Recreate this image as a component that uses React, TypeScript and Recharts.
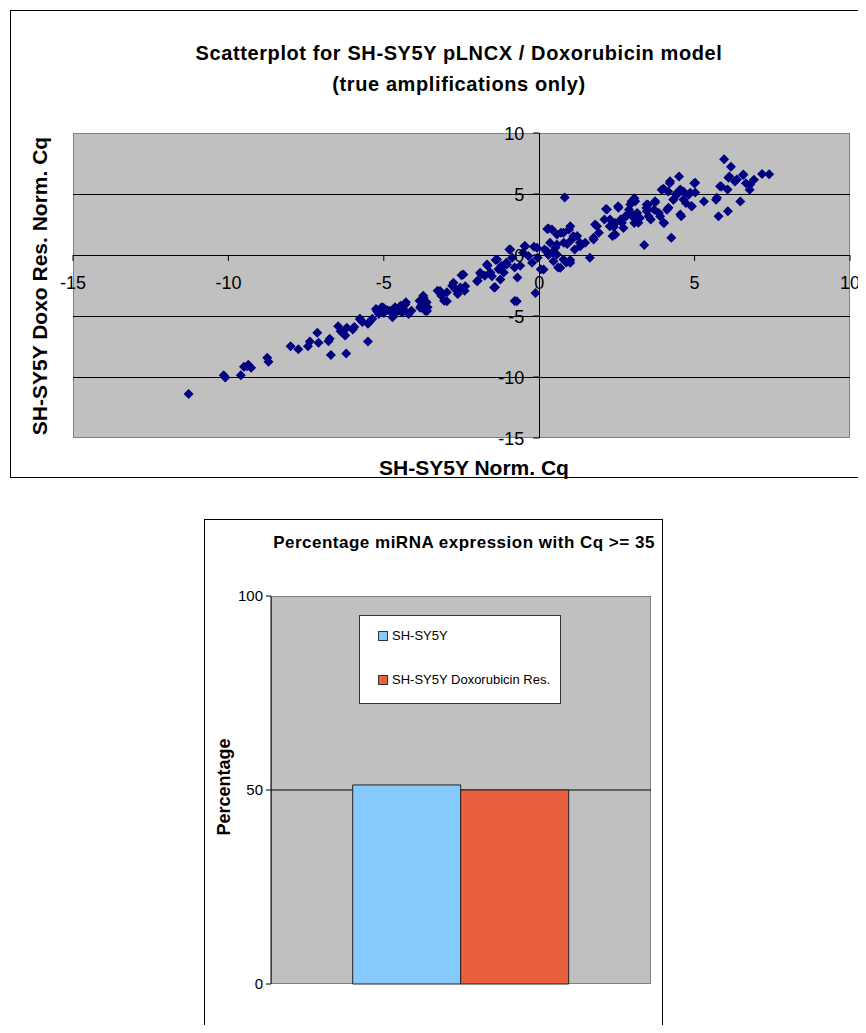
import React from "react";
import {
    ScatterChart,
    Scatter,
    XAxis,
    YAxis,
    CartesianGrid,
    BarChart,
    Bar,
    Legend,
} from "recharts";

// SH-SY5Y normalised Cq (x) vs SH-SY5Y Doxo Res. normalised Cq (y)
const parentalCq = [
    -11.28, -10.15, -10.1, -9.6, -9.5, -9.36, -9.27, -9.4, -8.75, -8.71,
    -8.0, -7.75, -7.44, -7.38, -7.14, -7.1, -6.78, -6.74, -6.7, -6.47,
    -6.39, -6.3, -6.24, -6.21, -6.19, -6.0, -5.95, -5.77, -5.76, -5.69,
    -5.51, -5.51, -5.44, -5.37, -5.25, -5.22, -5.16, -5.07, -5.01, -5.0,
    -4.81, -4.72, -4.69, -4.64, -4.55, -4.47, -4.46, -4.37, -4.31, -4.29,
    -4.2, -4.11, -3.85, -3.83, -3.8, -3.73, -3.72, -3.67, -3.62, -3.61,
    -3.59, -3.27, -3.19, -3.15, -3.06, -2.97, -2.97, -2.8, -2.76, -2.71,
    -2.62, -2.54, -2.5, -2.44, -2.4, -2.38, -2.0, -1.98, -1.9, -1.87,
    -1.75, -1.68, -1.66, -1.57, -1.52, -1.45, -1.42, -1.4, -1.36, -1.31,
    -1.25, -1.22, -1.14, -1.05, -1.04, -0.96, -0.93, -0.87, -0.79, -0.79,
    -0.72, -0.7, -0.61, -0.52, -0.47, -0.45, -0.35, -0.23, -0.17, -0.12,
    -0.07, -0.05, 0.05, 0.14, 0.17, 0.25, 0.26, 0.3, 0.35, 0.41,
    0.44, 0.46, 0.46, 0.52, 0.57, 0.57, 0.57, 0.61, 0.68, 0.7,
    0.78, 0.78, 0.79, 0.82, 0.87, 0.96, 1.0, 1.0, 1.0, 1.05,
    1.1, 1.14, 1.22, 1.31, 1.32, 1.48, 1.63, 1.75, 1.75, 1.8,
    1.86, 1.92, 2.1, 2.15, 2.18, 2.27, 2.28, 2.36, 2.45, 2.45,
    2.54, 2.55, 2.62, 2.66, 2.71, 2.77, 2.8, 2.89, 2.93, 2.97,
    3.04, 3.06, 3.06, 3.09, 3.15, 3.19, 3.24, 3.38, 3.45, 3.46,
    3.46, 3.5, 3.52, 3.59, 3.73, 3.73, 3.85, 3.89, 3.94, 4.0,
    4.0, 4.02, 4.11, 4.15, 4.16, 4.2, 4.21, 4.25, 4.32, 4.32,
    4.43, 4.5, 4.54, 4.54, 4.57, 4.64, 4.64, 4.72, 4.81, 4.86,
    4.9, 4.91, 4.99, 5.02, 5.02, 5.3, 5.69, 5.72, 5.77, 5.82,
    5.86, 5.95, 6.06, 6.07, 6.09, 6.12, 6.17, 6.3, 6.36, 6.47,
    6.56, 6.57, 6.65, 6.77, 6.79, 6.91, 7.17, 7.4,
    -4.9, -4.4, -3.7, -1.2, 0.3, 0.9, 2.4, 3.0, 3.7, 4.4,
];
const doxoCq = [
    -11.4, -9.85, -10.05, -9.85, -9.15, -9.0, -9.25, -9.11, -8.43, -8.76,
    -7.48, -7.73, -7.48, -7.08, -6.37, -7.2, -7.07, -6.86, -8.2, -5.83,
    -6.26, -6.45, -6.6, -8.08, -5.97, -6.1, -5.9, -5.23, -5.29, -5.5,
    -7.08, -5.64, -5.43, -5.23, -4.42, -4.6, -4.83, -4.28, -4.33, -4.75,
    -4.56, -5.1, -4.88, -4.28, -4.56, -4.6, -4.15, -4.42, -4.06, -3.88,
    -4.83, -4.56, -3.74, -4.33, -4.15, -3.34, -3.51, -4.56, -3.88, -4.6,
    -4.28, -2.93, -2.96, -3.34, -3.74, -3.06, -3.79, -2.52, -2.28, -2.79,
    -3.2, -2.66, -1.65, -1.6, -2.93, -2.56, -2.15, -2.11, -1.46, -1.57,
    -1.71, -0.78, -0.89, -1.44, -1.74, -2.66, -2.64, -0.41, -0.37, -1.17,
    -2.01, -0.89, -1.44, -0.62, -0.78, 0.46, 0.45, -0.22, -1.03, -3.77,
    -3.79, -1.84, -0.89, 0.19, 0.73, 0.72, -0.08, -0.64, 0.68, -3.12,
    0.59, -0.22, -1.17, -1.19, 0.46, 0.31, 2.14, 2.17, 1.0, 2.09,
    0.19, 0.31, -0.51, 0.6, 1.68, 0.86, 0.04, -1.03, -1.05, 1.82,
    1.82, -0.37, 1.0, 4.72, -0.62, 2.09, -0.41, 2.36, -0.64, 1.27,
    1.54, 0.46, 1.55, 1.0, 0.72, 1.0, -0.22, 1.27, 1.41, 2.49,
    2.36, 1.82, 2.9, 3.77, 3.73, 2.36, 2.91, 1.55, 2.63, 1.68,
    3.99, 3.87, 2.9, 2.64, 2.22, 3.18, 3.17, 3.71, 4.14, 4.39,
    3.05, 4.66, 2.63, 4.41, 3.44, 2.64, 3.04, 0.81, 3.85, 3.59,
    4.14, 4.12, 3.18, 2.9, 4.31, 4.41, 3.44, 3.18, 5.34, 5.43,
    2.64, 2.63, 3.71, 5.21, 3.87, 5.88, 6.05, 1.41, 4.53, 4.55,
    4.93, 6.43, 5.37, 3.32, 3.17, 5.21, 4.55, 4.26, 4.93, 5.1,
    4.0, 4.0, 5.88, 5.12, 5.92, 4.39, 4.53, 4.69, 3.17, 5.64,
    5.61, 7.84, 5.37, 3.58, 6.33, 6.43, 7.24, 6.02, 6.19, 4.39,
    6.56, 6.6, 5.88, 5.34, 5.78, 6.16, 6.64, 6.62,
    -4.5, -4.7, -4.0, -1.0, 0.0, 0.9, 2.3, 3.3, 3.7, 5.0,
];
const scatterXTicks = [-15, -10, -5, 0, 5, 10];
const scatterYTicks = [-15, -10, -5, 0, 5, 10];
const scatterGridY = [5, 0, -5, -10];
const scatterGridX = [0];

// bar chart
const barCategories = ["miRNA"];
const parentalPct = [51.3];
const doxoPct = [50.0];
const barYTicks = [0, 50, 100];
const barGridY = [50];

const scatterPoints = parentalCq.map((x, i) => ({ x, y: doxoCq[i] }));
const barData = barCategories.map((c, i) => ({
    category: c,
    parental: parentalPct[i],
    doxo: doxoPct[i],
}));

const FONT = "'Liberation Sans', Arial, Helvetica, sans-serif";

// scatter layout (page coords)
const SC_LEFT = 10;
const SC_TOP = 10;
const SC_W = 852;
const SC_H = 468;
const SC_M = { top: 123, right: 12, bottom: 40, left: 63 };
const SC_PW = SC_W - SC_M.left - SC_M.right;
const SC_PH = SC_H - SC_M.top - SC_M.bottom;
// where the axes cross (data 0,0) inside the chart svg
const X0 = SC_M.left + (SC_PW * (0 - -15)) / 25;
const Y0 = SC_M.top + (SC_PH * (10 - 0)) / 25;

// bar layout
const BC_LEFT = 204;
const BC_TOP = 519;
const BC_W = 459;
const BC_H = 514;
const BC_M = { top: 77, right: 12, bottom: 49, left: 7 };
const BC_YW = 60;

const Diamond = (props: any) => {
    const { cx, cy } = props;
    if (cx == null || cy == null) return null;
    const r = 5;
    return (
        <polygon
            points={`${cx},${cy - r} ${cx + r},${cy} ${cx},${cy + r} ${cx - r},${cy}`}
            fill="#000080"
        />
    );
};

const XTick = (props: any) => {
    const { x, payload } = props;
    return (
        <g>
            <line x1={x} x2={x} y1={Y0} y2={Y0 + 6} stroke="#000" />
            <text x={x} y={Y0 + 34} textAnchor="middle" fontSize={18} fill="#000">
                {payload.value}
            </text>
        </g>
    );
};

const YTick = (props: any) => {
    const { y, payload } = props;
    return (
        <g>
            <line x1={X0 - 6} x2={X0} y1={y} y2={y} stroke="#000" />
            <text x={X0 - 15} y={y + 6.5} textAnchor="end" fontSize={18} fill="#000">
                {payload.value}
            </text>
        </g>
    );
};

const BarLegend = (props: any) => {
    const { payload } = props;
    return (
        <div
            style={{
                width: 202,
                height: 89,
                background: "#fff",
                border: "1px solid #333",
                boxSizing: "border-box",
                position: "relative",
                fontSize: 13,
                color: "#000",
            }}
        >
            {(payload || []).map((entry: any, i: number) => (
                <div
                    key={`leg-${i}`}
                    style={{
                        position: "absolute",
                        left: 18,
                        top: 12 + i * 44,
                        display: "flex",
                        alignItems: "center",
                        whiteSpace: "nowrap",
                        lineHeight: "16px",
                    }}
                >
                    <span
                        style={{
                            width: 8,
                            height: 8,
                            background: entry.color,
                            border: "1px solid #333",
                            marginRight: 4,
                        }}
                    />
                    <span>{entry.value}</span>
                </div>
            ))}
        </div>
    );
};

const App = () => {
    return (
        <div
            style={{
                position: "relative",
                margin: -8,
                width: 866,
                height: 1033,
                overflow: "hidden",
                background: "#fff",
                fontFamily: FONT,
            }}
        >
            {/* scatter panel */}
            <div
                style={{
                    position: "absolute",
                    left: SC_LEFT,
                    top: SC_TOP,
                    width: SC_W,
                    height: SC_H,
                    border: "1px solid #000",
                    boxSizing: "border-box",
                }}
            />
            <div
                style={{
                    position: "absolute",
                    left: SC_LEFT + SC_M.left,
                    top: SC_TOP + SC_M.top,
                    width: SC_PW,
                    height: SC_PH,
                    background: "#C0C0C0",
                    border: "1px solid #808080",
                    boxSizing: "border-box",
                }}
            />
            <div
                style={{
                    position: "absolute",
                    left: 159,
                    width: 600,
                    top: 38,
                    textAlign: "center",
                    fontWeight: "bold",
                    fontSize: 20,
                    letterSpacing: 0.6,
                    lineHeight: "31px",
                }}
            >
                Scatterplot for SH-SY5Y pLNCX / Doxorubicin model
                <br />
                (true amplifications only)
            </div>
            <div
                style={{
                    position: "absolute",
                    left: 274,
                    width: 400,
                    top: 455,
                    textAlign: "center",
                    fontWeight: "bold",
                    fontSize: 21,
                    lineHeight: "26px",
                }}
            >
                SH-SY5Y Norm. Cq
            </div>
            <div
                style={{
                    position: "absolute",
                    left: 40 - 200,
                    top: 286 - 13,
                    width: 400,
                    textAlign: "center",
                    fontWeight: "bold",
                    fontSize: 21,
                    lineHeight: "26px",
                    transform: "rotate(-90deg)",
                    transformOrigin: "50% 50%",
                }}
            >
                SH-SY5Y Doxo Res. Norm. Cq
            </div>
            <div style={{ position: "absolute", left: SC_LEFT, top: SC_TOP }}>
                <ScatterChart width={SC_W} height={SC_H} margin={{ ...SC_M, bottom: SC_M.bottom - 20, left: SC_M.left - 20 }}>
                    <CartesianGrid
                        stroke="#000"
                        shapeRendering="crispEdges"
                        horizontalValues={scatterGridY}
                        verticalValues={scatterGridX}
                    />
                    <XAxis
                        type="number"
                        dataKey="x"
                        domain={[-15, 10]}
                        ticks={scatterXTicks}
                        interval={0}
                        height={20}
                        axisLine={false}
                        tickLine={false}
                        tick={<XTick />}
                    />
                    <YAxis
                        type="number"
                        dataKey="y"
                        domain={[-15, 10]}
                        ticks={scatterYTicks}
                        interval={0}
                        width={20}
                        axisLine={false}
                        tickLine={false}
                        tick={<YTick />}
                    />
                    <Scatter data={scatterPoints} fill="#000080" shape={<Diamond />} isAnimationActive={false} />
                </ScatterChart>
            </div>

            {/* bar panel */}
            <div
                style={{
                    position: "absolute",
                    left: BC_LEFT,
                    top: BC_TOP,
                    width: BC_W,
                    height: 540,
                    border: "1px solid #000",
                    boxSizing: "border-box",
                }}
            />
            <div
                style={{
                    position: "absolute",
                    left: BC_LEFT + BC_M.left + BC_YW,
                    top: BC_TOP + BC_M.top,
                    width: BC_W - BC_M.left - BC_YW - BC_M.right,
                    height: BC_H - BC_M.top - BC_M.bottom,
                    background: "#C0C0C0",
                    border: "1px solid #808080",
                    boxSizing: "border-box",
                }}
            />
            <div
                style={{
                    position: "absolute",
                    left: 264,
                    width: 400,
                    top: 532,
                    textAlign: "center",
                    fontWeight: "bold",
                    fontSize: 17,
                    letterSpacing: 0.5,
                    lineHeight: "22px",
                    whiteSpace: "nowrap",
                }}
            >
                Percentage miRNA expression with Cq &gt;= 35
            </div>
            <div
                style={{
                    position: "absolute",
                    left: 224 - 100,
                    top: 787 - 11,
                    width: 200,
                    textAlign: "center",
                    fontWeight: "bold",
                    fontSize: 18,
                    lineHeight: "22px",
                    transform: "rotate(-90deg)",
                    transformOrigin: "50% 50%",
                }}
            >
                Percentage
            </div>
            <div style={{ position: "absolute", left: BC_LEFT, top: BC_TOP }}>
                <BarChart
                    width={BC_W}
                    height={BC_H}
                    data={barData}
                    margin={BC_M}
                    barCategoryGap="21.5%"
                    barGap={0}
                >
                    <CartesianGrid stroke="#000" vertical={false} horizontalValues={barGridY} />
                    <XAxis dataKey="category" hide />
                    <YAxis
                        domain={[0, 100]}
                        ticks={barYTicks}
                        interval={0}
                        width={BC_YW}
                        tickSize={5}
                        tickMargin={3}
                        axisLine={{ stroke: "#000" }}
                        tickLine={{ stroke: "#000" }}
                        tick={{ fontSize: 15, fill: "#000" }}
                    />
                    <Bar dataKey="parental" name="SH-SY5Y" fill="#85C9FD" stroke="#222" isAnimationActive={false} />
                    <Bar dataKey="doxo" name="SH-SY5Y Doxorubicin Res." fill="#E9603F" stroke="#222" isAnimationActive={false} />
                    <Legend
                        layout="vertical"
                        align="center"
                        verticalAlign="middle"
                        content={<BarLegend />}
                        wrapperStyle={{ left: 155, top: 96, width: 202, height: 89 }}
                    />
                </BarChart>
            </div>
        </div>
    );
};

export default App;
